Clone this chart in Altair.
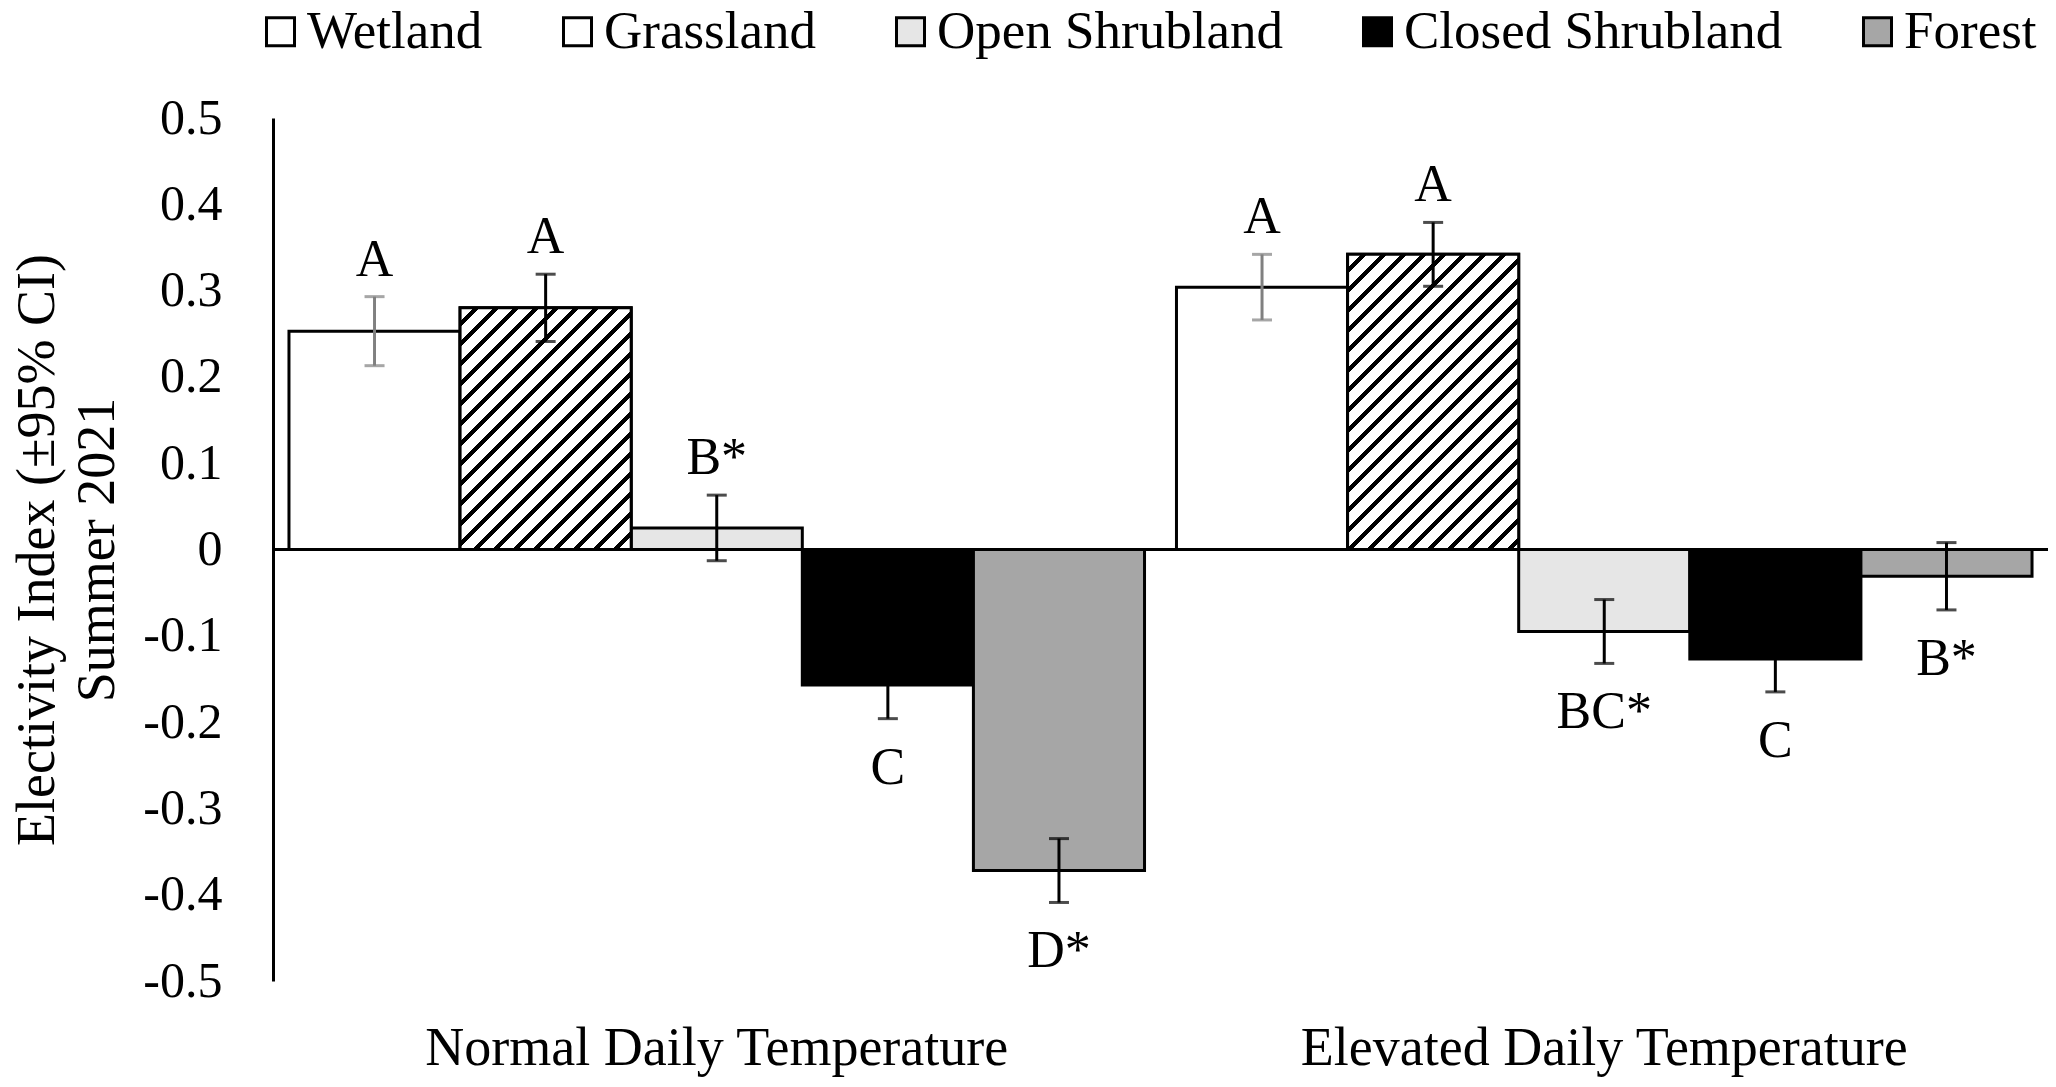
import math
import altair as alt
import pandas as pd

# ---------------- data ----------------
groups = ["Normal Daily Temperature", "Elevated Daily Temperature"]
habitats = ["Wetland", "Grassland", "Open Shrubland", "Closed Shrubland", "Forest"]
normal_values = [0.253, 0.280, 0.025, -0.157, -0.372]
elevated_values = [0.304, 0.342, -0.095, -0.127, -0.031]
normal_ci = [0.040, 0.039, 0.038, 0.039, 0.037]
elevated_ci = [0.038, 0.037, 0.037, 0.038, 0.039]
normal_letters = ["A", "A", "B*", "C", "D*"]
elevated_letters = ["A", "A", "BC*", "C", "B*"]
fill_colors = ["#ffffff", "#ffffff", "#e6e6e6", "#000000", "#a6a6a6"]
y_ticks = [-0.5, -0.4, -0.3, -0.2, -0.1, 0, 0.1, 0.2, 0.3, 0.4, 0.5]
y_title = ["Electivity Index (\u00b195% CI)", "Summer 2021"]

# ---------------- style ----------------
FONT = "Liberation Serif"
PLOT_W, PLOT_H = 1775, 863
PAD_INNER, PAD_OUTER = 0.036, 0.018
BAR_W = PLOT_W / (2 - PAD_INNER + 2 * PAD_OUTER) * (1 - PAD_INNER) / len(habitats)

rows = []
for g, vals, cis, lets in zip(groups, [normal_values, elevated_values],
                              [normal_ci, elevated_ci],
                              [normal_letters, elevated_letters]):
    for h, v, c, l in zip(habitats, vals, cis, lets):
        rows.append(dict(group=g, habitat=h, value=v, lo=v - c, hi=v + c,
                         letter=l, pos=bool(v >= 0)))
df = pd.DataFrame(rows)


def hatch(bar_h, period=20.0, black=0.32):
    """45-degree diagonal hatch as a linear gradient (bbox units)."""
    a, b = BAR_W / bar_h, 1.0
    s = (a + b) / (a * a + b * b)
    pt = period * a / (s * (a * a + b * b) * BAR_W)
    stops = []
    k = 0
    while k * pt < 1:
        t0 = k * pt
        t1 = min(t0 + pt * (1 - black), 1.0)
        t2 = min(t0 + pt, 1.0)
        stops += [{"offset": t0, "color": "white"}, {"offset": t1, "color": "white"},
                  {"offset": t1, "color": "black"}, {"offset": t2, "color": "black"}]
        k += 1
    return {"gradient": "linear", "x1": 0, "y1": 0, "x2": s * a, "y2": s * b,
            "stops": stops}


x_enc = alt.X("group:N", sort=groups,
              scale=alt.Scale(domain=groups, paddingInner=PAD_INNER, paddingOuter=PAD_OUTER),
              axis=alt.Axis(title=None, domain=False, ticks=False, tickSize=0,
                            labelPadding=40, labelFontSize=54, labelFont=FONT,
                            labelColor="black", labelAngle=0, labelLimit=2000))
xo_enc = alt.XOffset("habitat:N", sort=habitats,
                     scale=alt.Scale(domain=habitats, paddingInner=0, paddingOuter=0))
y_scale = alt.Scale(domain=[-0.5, 0.5], nice=False, zero=False)
y_axis = alt.Axis(values=y_ticks,
                  labelExpr="(datum.value < 0 ? '-' : '') + format(abs(datum.value), '.1~f')",
                  domain=True, domainColor="black", domainWidth=3, ticks=False, tickSize=0,
                  grid=False, labelPadding=51, labelFontSize=50, labelFont=FONT,
                  labelColor="black", title=y_title, titleFontSize=54, titleFont=FONT,
                  titleFontWeight="normal", titleColor="black", titleX=-236,
                  titleBaseline="middle", titleAlign="center", titleAngle=270,
                  titleLineHeight=60, titleLimit=3000)

base = alt.Chart(df)

bars = base.mark_bar(stroke="black", strokeWidth=3).encode(
    x=x_enc, xOffset=xo_enc,
    y=alt.Y("value:Q", stack=None, scale=y_scale, axis=y_axis),
    y2=alt.datum(0),
    fill=alt.Fill("habitat:N", sort=habitats,
                  scale=alt.Scale(domain=habitats, range=fill_colors),
                  legend=alt.Legend(orient="none", direction="horizontal",
                                    legendX=-19, legendY=-113, title=None,
                                    symbolType="square", symbolSize=784,
                                    symbolStrokeColor="black", symbolStrokeWidth=3,
                                    labelFontSize=53, labelFont=FONT, labelColor="black",
                                    labelLimit=2000, columnPadding=68, labelOffset=0,
                                    padding=0)),
)

hatch_layers = []
for g, vals in zip(groups, [normal_values, elevated_values]):
    v = vals[habitats.index("Grassland")]
    hatch_layers.append(
        base.transform_filter(
            (alt.datum.group == g) & (alt.datum.habitat == "Grassland")
        ).mark_bar(fill=hatch(abs(v) * PLOT_H), stroke="black", strokeWidth=3).encode(
            x=x_enc, xOffset=xo_enc,
            y=alt.Y("value:Q", stack=None, scale=y_scale),
            y2=alt.datum(0),
        )
    )

zero = base.mark_rule(color="black", strokeWidth=3).encode(y=alt.datum(0))

err_color = alt.condition("datum.habitat === 'Wetland'", alt.value("#808080"), alt.value("black"))

err = base.mark_rule(strokeWidth=3).encode(
    x=x_enc, xOffset=xo_enc,
    y=alt.Y("lo:Q", scale=y_scale), y2="hi:Q",
    stroke=err_color,
)
caps = base.transform_fold(["lo", "hi"], as_=["end", "val"]).mark_tick(
    orient="horizontal", size=20, thickness=3).encode(
    x=x_enc, xOffset=xo_enc,
    y=alt.Y("val:Q", scale=y_scale),
    color=err_color,
)

txt_pos = base.transform_filter("datum.pos").mark_text(
    baseline="bottom", dy=-10, fontSize=52, font=FONT, color="black").encode(
    x=x_enc, xOffset=xo_enc, y=alt.Y("hi:Q", scale=y_scale), text="letter:N")
txt_neg = base.transform_filter("!datum.pos").mark_text(
    baseline="top", dy=24, fontSize=52, font=FONT, color="black").encode(
    x=x_enc, xOffset=xo_enc, y=alt.Y("lo:Q", scale=y_scale), text="letter:N")

chart = alt.layer(bars, *hatch_layers, zero, err, caps, txt_pos, txt_neg).properties(
    width=PLOT_W, height=PLOT_H,
    autosize=alt.AutoSizeParams(type="none"),
    padding={"left": 273, "top": 118, "right": 8, "bottom": 106},
    background="white",
).configure_view(stroke=None)

chart.save("out.html", embed_options={"renderer": "svg", "actions": False})
